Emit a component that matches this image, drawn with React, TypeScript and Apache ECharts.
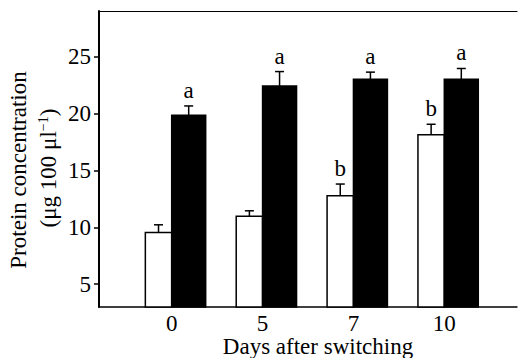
import React, { useEffect, useRef } from "react";
import * as echarts from "echarts";

const categories = ["0", "5", "7", "10"];
const controlValues = [9.55, 10.98, 12.77, 18.14];
const controlErrors = [0.67, 0.47, 1.03, 0.91];
const controlLetters = ["", "", "b", "b"];
const treatedValues = [19.84, 22.42, 23.01, 23.01];
const treatedErrors = [0.82, 1.26, 0.62, 0.94];
const treatedLetters = ["a", "a", "a", "a"];
const yTicks = [5, 10, 15, 20, 25];

const FONT = "'Liberation Serif', 'DejaVu Serif', serif";
const FS = 23;
const Y_MIN = 3;
const Y_MAX = 29;

function makeRender(values: number[], errors: number[], letters: string[], side: "left" | "right", widthUnits: number, fill: string) {
  return (params: any, api: any) => {
    const i = params.dataIndex;
    const x = api.value(0);
    const v = values[i];
    const e = errors[i];
    const base = api.coord([x, Y_MIN]);
    const top = api.coord([x, v]);
    const errTop = api.coord([x, v + e]);
    const w = api.size([widthUnits, 0])[0];
    const x0 = side === "left" ? top[0] - w : top[0];
    const cx = x0 + w / 2;
    const children: any[] = [
      {
        type: "rect",
        shape: { x: x0, y: top[1], width: w, height: base[1] - top[1] },
        style: { fill, stroke: "#000", lineWidth: 1.5 },
      },
      {
        type: "line",
        shape: { x1: cx, y1: top[1], x2: cx, y2: errTop[1] },
        style: { stroke: "#000", lineWidth: 1.5 },
      },
      {
        type: "line",
        shape: { x1: cx - 4.5, y1: errTop[1], x2: cx + 4.5, y2: errTop[1] },
        style: { stroke: "#000", lineWidth: 1.5 },
      },
    ];
    if (letters[i]) {
      children.push({
        type: "text",
        style: {
          text: letters[i],
          x: cx,
          y: errTop[1] - 4,
          align: "center",
          verticalAlign: "bottom",
          font: `${FS}px ${FONT}`,
          fill: "#000",
        },
      });
    }
    return { type: "group", children };
  };
}

export default function App() {
  const ref = useRef<HTMLDivElement>(null);
  useEffect(() => {
    if (!ref.current) return;
    const chart = echarts.init(ref.current, undefined, { renderer: "svg" });
    const idx = categories.map((_, i) => i);
    chart.setOption({
      animation: false,
      backgroundColor: "#fff",
      grid: { left: 99, right: 1, top: 11, bottom: 51 },
      xAxis: [
        {
          type: "value",
          min: -0.8,
          max: 3.8,
          axisLine: { show: true, onZero: false, lineStyle: { color: "#000", width: 1.5 } },
          axisTick: { show: false },
          splitLine: { show: false },
          axisLabel: {
            customValues: idx,
            formatter: (val: number) => categories[Math.round(val)] ?? "",
            color: "#000",
            fontFamily: FONT,
            fontSize: FS,
            lineHeight: 22,
            margin: 5,
          },
        },
        {
          type: "value",
          position: "top",
          min: -0.8,
          max: 3.8,
          axisLine: { show: true, onZero: false, lineStyle: { color: "#000", width: 1.2 } },
          axisTick: { show: false },
          axisLabel: { show: false },
          splitLine: { show: false },
        },
      ],
      yAxis: {
        type: "value",
        min: Y_MIN,
        max: Y_MAX,
        axisLine: { show: true, onZero: false, lineStyle: { color: "#000", width: 2 } },
        axisTick: { show: true, customValues: yTicks, length: 5, lineStyle: { color: "#000", width: 1.5 } },
        axisLabel: {
          customValues: yTicks,
          color: "#000",
          fontFamily: FONT,
          fontSize: FS,
          margin: 8,
        },
        splitLine: { show: false },
      },
      graphic: [
        {
          type: "text",
          x: 18,
          y: 170,
          rotation: Math.PI / 2,
          style: {
            text: "Protein concentration",
            align: "center",
            verticalAlign: "middle",
            font: `${FS}px ${FONT}`,
            fill: "#000",
          },
        },
        {
          type: "text",
          x: 48,
          y: 168,
          rotation: Math.PI / 2,
          style: {
            text: "{n|(μg 100 μl}{s|−1}{n|)}",
            align: "center",
            verticalAlign: "middle",
            rich: {
              n: { fontFamily: FONT, fontSize: FS, fill: "#000", color: "#000" },
              s: { fontFamily: FONT, fontSize: 14, fill: "#000", color: "#000", verticalAlign: "top", padding: [0, 0, 8, 0] },
            },
          },
        },
        {
          type: "text",
          x: 318,
          y: 346,
          style: {
            text: "Days after switching",
            align: "center",
            verticalAlign: "middle",
            font: `${FS}px ${FONT}`,
            lineHeight: 22,
            fill: "#000",
          },
        },
      ],
      series: [
        {
          type: "custom",
          name: "control",
          xAxisIndex: 0,
          renderItem: makeRender(controlValues, controlErrors, controlLetters, "left", 0.29, "#fff"),
          data: idx.map((i) => [i, controlValues[i]]),
          encode: { x: 0, y: 1 },
          z: 2,
        },
        {
          type: "custom",
          name: "treated",
          xAxisIndex: 0,
          renderItem: makeRender(treatedValues, treatedErrors, treatedLetters, "right", 0.374, "#000"),
          data: idx.map((i) => [i, treatedValues[i]]),
          encode: { x: 0, y: 1 },
          z: 2,
        },
      ],
    });
    return () => chart.dispose();
  }, []);
  return <div ref={ref} style={{ width: 518, height: 358, position: "absolute", left: 0, top: 0 }} />;
}
